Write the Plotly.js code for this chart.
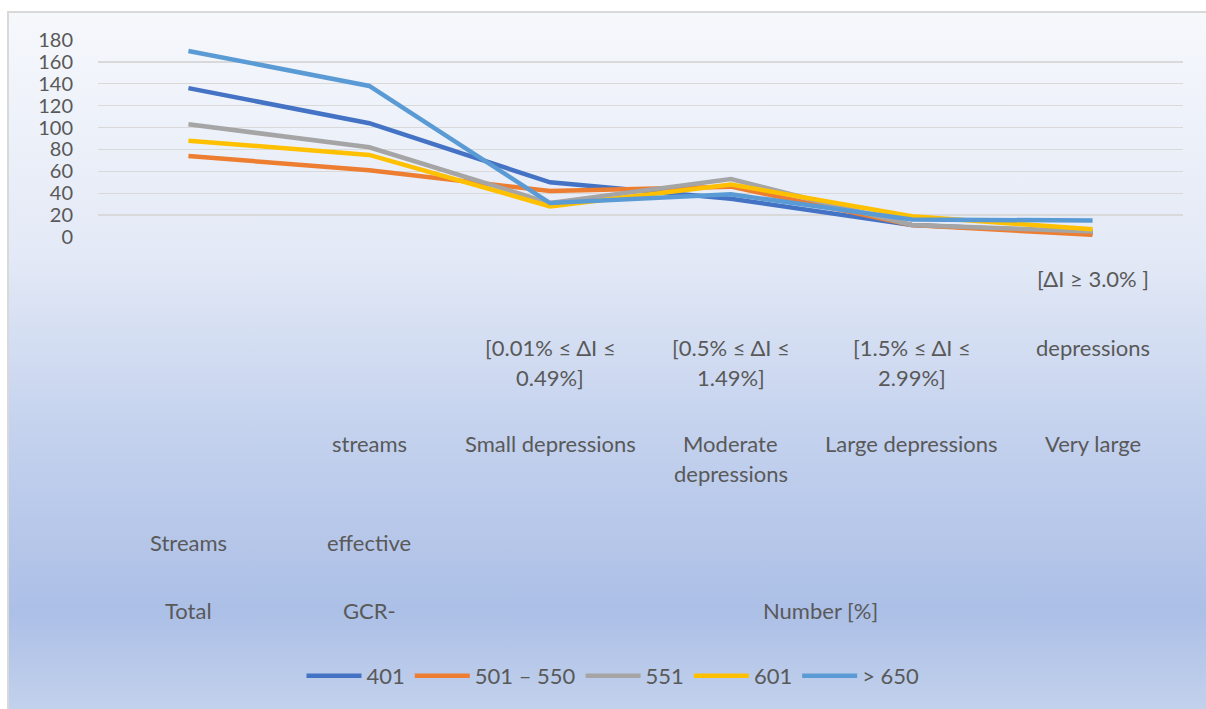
<!DOCTYPE html>
<html>
<head>
<meta charset="utf-8">
<script src="https://cdn.plot.ly/plotly-3.0.1.min.js"></script>
<style>
  html, body { margin: 0; padding: 0; background: #ffffff; width: 1206px; height: 709px; overflow: hidden; }
  #bg { position: absolute; left: 7px; top: 11px; width: 1199px; height: 698px;
        border-left: 2px solid #D9D9D9; border-top: 2px solid #D9D9D9; box-sizing: border-box;
        background: linear-gradient(to bottom, #F6F8FC 0%, #E3E9F6 35%, #C4D2EE 60%, #ACBFE6 86%, #C2D1EC 100%); }
  #chart { position: absolute; left: 0; top: 0; width: 1206px; height: 709px; }
</style>
</head>
<body>
<div id="bg"></div>
<div id="chart"></div>
<script>
const categories = ["Total Streams", "GCR-effective streams", "Small depressions", "Moderate depressions", "Large depressions", "Very large depressions"];

const seriesNames = ["401", "501 – 550", "551", "601", "> 650"];
const s401    = [136, 104, 50, 35, 11, 4];
const s501_550 = [74, 61, 42, 46, 11, 2];
const s551    = [103, 82, 31, 53, 11, 5];
const s601    = [88, 75, 28, 48, 19, 7];
const s650    = [170, 138, 31, 39, 16, 15];

const yTickVals = [0, 20, 40, 60, 80, 100, 120, 140, 160, 180];

// category label text, one row of text per line of the original axis labels
const labelRows = [
  ["", "", "", "", "", "[ΔI ≥ 3.0% ]"],
  ["", "", "[0.01% ≤ ΔI ≤", "[0.5% ≤ ΔI ≤", "[1.5% ≤ ΔI ≤", "depressions"],
  ["", "", "0.49%]", "1.49%]", "2.99%]", ""],
  ["", "streams", "Small depressions", "Moderate", "Large depressions", "Very large"],
  ["", "", "", "depressions", "", ""],
  ["Streams", "effective", "", "", "", ""],
  ["Total", "GCR-", "", "", "", ""]
];
const axisTitle = "Number [%]";

const colors = ["#4472C4", "#ED7D31", "#A5A5A5", "#FFC000", "#5B9BD5"];
const allSeries = [s401, s501_550, s551, s601, s650];

const traces = allSeries.map((vals, i) => ({
  type: "scatter", mode: "lines", name: seriesNames[i],
  x: categories, y: vals,
  line: { color: colors[i], width: 4.5 }
}));

// layout geometry (pixels)
const W = 1206, H = 709;
const plotLeft = 98, plotRight = 1183, plotTop = 40, plotBottom = 237;
const toPaper = px => (plotBottom - px) / (plotBottom - plotTop);
const toPaperX = px => (px - plotLeft) / (plotRight - plotLeft);
const rowPix = [278, 347, 377, 443, 473, 542, 610];

const FONT = "Lato, 'Open Sans', sans-serif";
const TXT = "#595959";
const annotations = [];
labelRows.forEach((row, r) => {
  row.forEach((t, c) => {
    if (!t) return;
    annotations.push({
      x: categories[c], xref: "x", y: toPaper(rowPix[r]), yref: "paper",
      text: t, showarrow: false, xanchor: "center", yanchor: "middle",
      font: { family: FONT, size: 22, color: TXT }
    });
  });
});
annotations.push({
  x: toPaperX(820), xref: "paper", y: toPaper(610), yref: "paper",
  text: axisTitle, showarrow: false, xanchor: "center", yanchor: "middle",
  font: { family: FONT, size: 22, color: TXT }
});

const layout = {
  width: W, height: H,
  margin: { l: plotLeft, r: W - plotRight, t: plotTop, b: H - plotBottom, autoexpand: false },
  paper_bgcolor: "rgba(0,0,0,0)", plot_bgcolor: "rgba(0,0,0,0)",
  font: { family: FONT, color: TXT, size: 22 },
  xaxis: { type: "category", showticklabels: false, showgrid: false, zeroline: false,
           showline: false, ticks: "", range: [-0.5, 5.5], fixedrange: true },
  yaxis: { range: [0, 180], tickvals: yTickVals, showgrid: true, gridcolor: "#D9D9D9", gridwidth: 1.3,
           zeroline: false, showline: false, ticks: "", ticklabelstandoff: 24,
           tickfont: { family: FONT, size: 20, color: TXT }, fixedrange: true },
  showlegend: true,
  legend: { orientation: "h", xref: "container", x: 613 / W, xanchor: "center",
            yref: "container", y: (H - 676) / H, yanchor: "middle", bgcolor: "rgba(0,0,0,0)",
            itemwidth: 55,
            font: { family: FONT, size: 22, color: TXT }, tracegroupgap: 0 },
  annotations: annotations
};

Plotly.newPlot("chart", traces, layout, { displayModeBar: false, staticPlot: true });
</script>
</body>
</html>
